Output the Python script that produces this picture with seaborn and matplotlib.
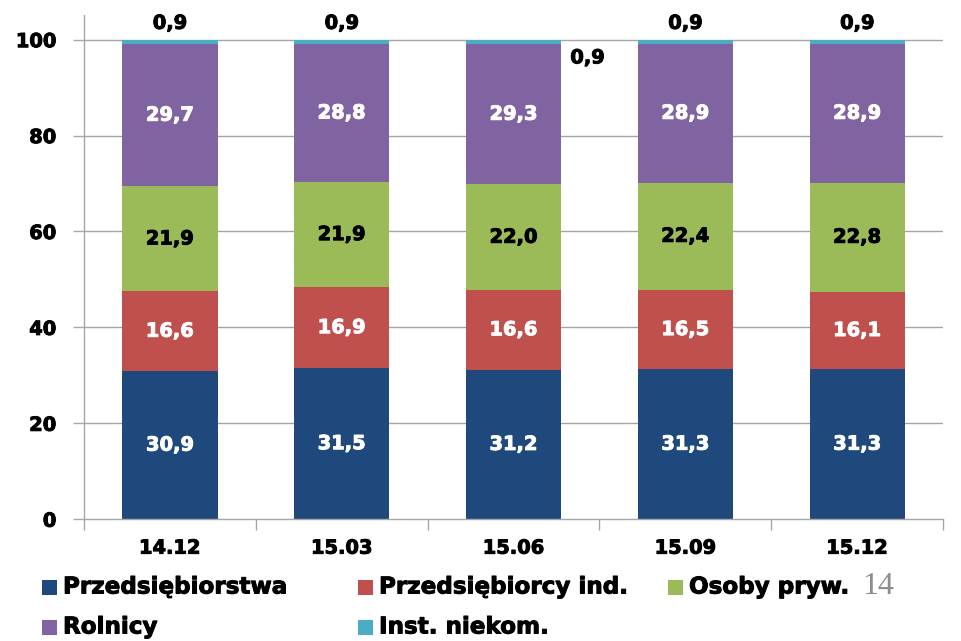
import numpy as np
import pandas as pd
import matplotlib
matplotlib.use("Agg")
import matplotlib.pyplot as plt
import matplotlib.patheffects as pe
from matplotlib.patches import Rectangle
import seaborn as sns

# data
periods = ["14.12", "15.03", "15.06", "15.09", "15.12"]
series = ["Przedsiębiorstwa", "Przedsiębiorcy ind.", "Osoby pryw.", "Rolnicy", "Inst. niekom."]
przedsiebiorstwa = [30.9, 31.5, 31.2, 31.3, 31.3]
przedsiebiorcy_ind = [16.6, 16.9, 16.6, 16.5, 16.1]
osoby_pryw = [21.9, 21.9, 22.0, 22.4, 22.8]
rolnicy = [29.7, 28.8, 29.3, 28.9, 28.9]
inst_niekom = [0.9, 0.9, 0.9, 0.9, 0.9]

colors = ["#1F497D", "#C0504D", "#9BBB59", "#8064A2", "#4BACC6"]
label_colors = ["white", "white", "black", "white", "black"]

df = pd.DataFrame({"okres": periods,
                   series[0]: przedsiebiorstwa,
                   series[1]: przedsiebiorcy_ind,
                   series[2]: osoby_pryw,
                   series[3]: rolnicy,
                   series[4]: inst_niekom})
cum = df[series].cumsum(axis=1)

sns.set_style("white")
plt.rcParams["font.family"] = ["DejaVu Sans"]
plt.rcParams["font.weight"] = "bold"


def heavy(c):
    # thicken the glyphs a little, the original font is heavier
    return [pe.withStroke(linewidth=0.7, foreground=c)]


fig = plt.figure(figsize=(9.61, 6.41), dpi=100)
ax = fig.add_axes([0.0874, 0.19, 0.894, 0.787])

# stacked bars: draw cumulative totals from the top layer down
for i in range(len(series) - 1, -1, -1):
    sns.barplot(x=df["okres"], y=cum[series[i]], color=colors[i], width=0.555,
                linewidth=0, saturation=1, ax=ax, zorder=2)

# value labels
for j, p in enumerate(periods):
    for i, s in enumerate(series[:-1]):
        v = df[s][j]
        mid = cum[s][j] - v / 2
        ax.text(j, mid, f"{v:.1f}".replace(".", ","), ha="center", va="center",
                color=label_colors[i], fontsize=14, fontweight="bold", zorder=3,
                path_effects=heavy(label_colors[i]))
    v = df[series[-1]][j]
    if j == 2:
        lx, ly = j + 0.43, 96.2
    else:
        lx, ly = j, 103.4
    ax.text(lx, ly, f"{v:.1f}".replace(".", ","), ha="center", va="center",
            color="black", fontsize=14, fontweight="bold", zorder=3,
            path_effects=heavy("black"))

ax.set_ylim(0, 105.2)
ax.set_xlim(-0.5, len(periods) - 0.5)
ax.set_yticks([0, 20, 40, 60, 80, 100])
ax.set_xlabel("")
ax.set_ylabel("")
for y in [20, 40, 60, 80, 100]:
    ax.axhline(y, color="#A6A6A6", lw=1, zorder=1)

ax.set_xticks(range(len(periods)))
ax.set_xticklabels(periods)
ax.set_xticks(np.arange(-0.5, len(periods)), minor=True)
ax.tick_params(axis="x", which="major", bottom=False, length=0, pad=14,
               labelsize=14, labelcolor="black")
ax.tick_params(axis="x", which="minor", bottom=True, length=8, width=1,
               color="#A6A6A6", direction="out")
ax.tick_params(axis="y", left=True, length=8, width=1, color="#A6A6A6",
               direction="out", labelsize=14, pad=12, labelcolor="black")
for lab in ax.get_yticklabels() + ax.get_xticklabels():
    lab.set_fontweight("bold")
    lab.set_path_effects(heavy("black"))

for side in ["top", "right"]:
    ax.spines[side].set_visible(False)
for side in ["left", "bottom"]:
    ax.spines[side].set_color("#A6A6A6")
    ax.spines[side].set_linewidth(1)

# legend laid out like the original (3 + 2 entries)
W, H = 961, 641
leg_pos = [(42, 587), (358, 587), (668, 587), (42, 627), (358, 627)]
for (px, py), s, c in zip(leg_pos, series, colors):
    fig.add_artist(Rectangle((px / W, (H - py - 7.5) / H), 15 / W, 15 / H,
                             transform=fig.transFigure, color=c, lw=0))
    fig.text((px + 21) / W, (H - py) / H, s, fontsize=16.6, fontweight="bold",
             va="center", ha="left", color="black", path_effects=heavy("black"))

fig.text(862 / W, (H - 587) / H, "14", fontsize=23, family="Liberation Serif",
         fontweight="normal", color="#8C8C8C", va="center", ha="left")

fig.savefig("out.png", dpi=100)
